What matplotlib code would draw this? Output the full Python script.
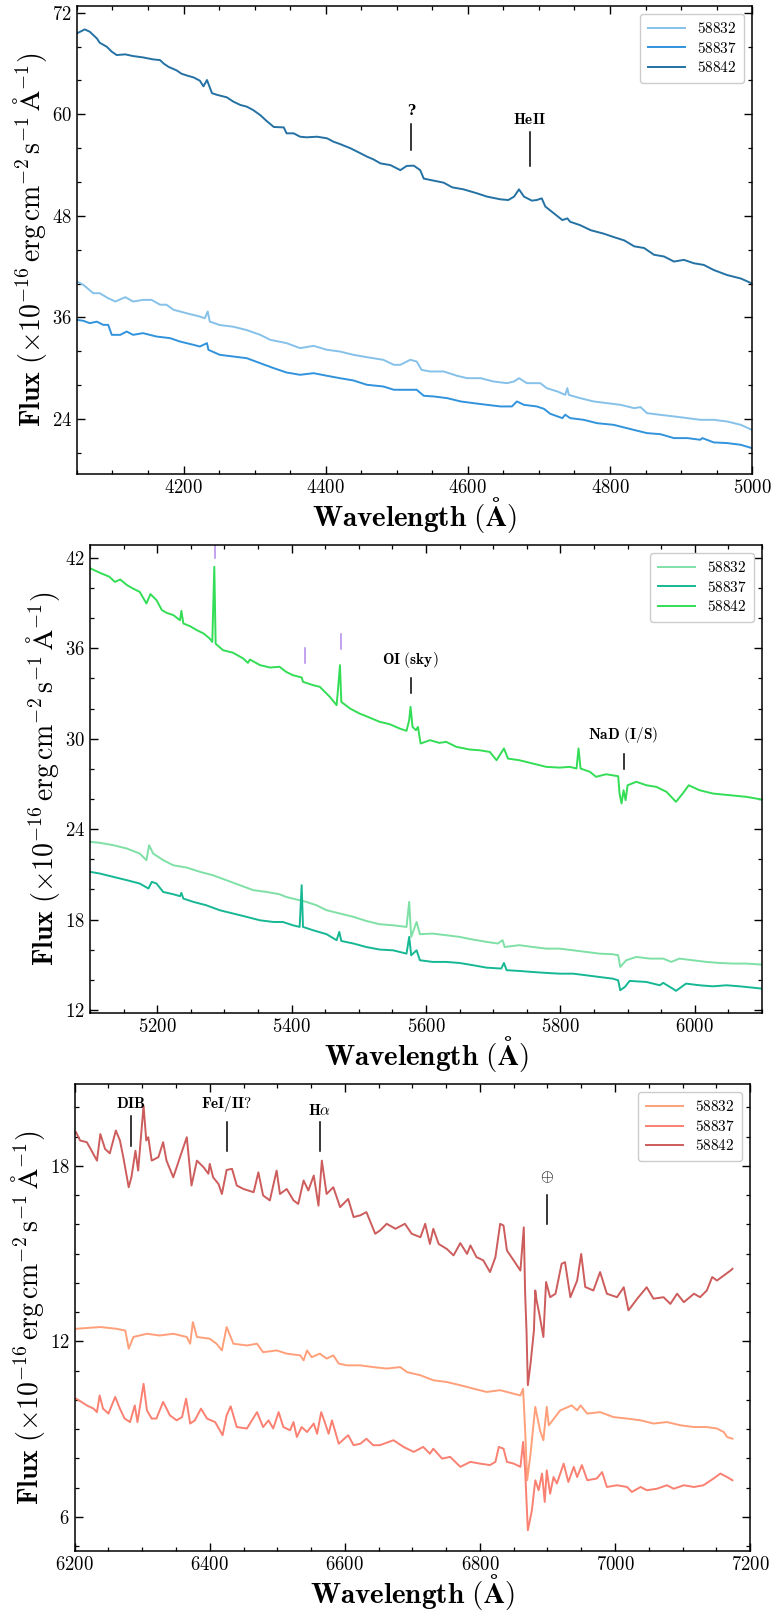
import matplotlib
matplotlib.use("Agg")
import matplotlib.pyplot as plt
from matplotlib.ticker import MultipleLocator, FuncFormatter

plt.rcParams['mathtext.fontset'] = 'cm'
plt.rcParams['font.family'] = 'serif'
plt.rcParams['font.serif'] = ['cmr10', 'DejaVu Serif']
plt.rcParams['axes.unicode_minus'] = False

# ---------------- panel 1 (blue) ----------------
wl_b32 = [4050, 4059, 4073, 4082, 4094, 4104, 4118, 4129, 4143, 4155, 4167, 4176, 4186, 4204, 4223, 4230,
          4234, 4237, 4251, 4270, 4289, 4308, 4322, 4345, 4364, 4383, 4402, 4420, 4439, 4458, 4481, 4496,
          4505, 4519, 4528, 4535, 4547, 4566, 4585, 4599, 4618, 4636, 4655, 4665, 4672, 4683, 4702, 4711,
          4726, 4737, 4740, 4742, 4758, 4777, 4796, 4815, 4834, 4843, 4852, 4871, 4890, 4909, 4927, 4946,
          4965, 4984, 5000]
fx_b32 = [40.24, 39.85, 38.86, 38.86, 38.27, 37.88, 38.39, 37.88, 38.07, 38.07, 37.5, 37.5, 36.9, 36.5, 36.1, 35.9,
          36.7, 35.5, 35.1, 34.9, 34.5, 33.94, 33.35, 32.96, 32.37, 32.64, 32.17, 31.97, 31.58, 31.3, 30.99, 30.4,
          30.4, 30.99, 30.79, 29.8, 29.61, 29.61, 29.1, 28.82, 28.82, 28.43, 28.23, 28.43, 28.82, 28.23, 28.23, 27.64,
          27.25, 26.85, 27.64, 26.85, 26.46, 26.07, 25.87, 25.67, 25.28, 25.4, 24.69, 24.49, 24.3, 24.1, 23.9, 23.9,
          23.7, 23.31, 22.7]

wl_b37 = [4050, 4059, 4068, 4078, 4087, 4094, 4099, 4111, 4120, 4129, 4143, 4162, 4181, 4195, 4214, 4223,
          4233, 4235, 4251, 4270, 4289, 4308, 4327, 4345, 4364, 4383, 4402, 4420, 4439, 4458, 4481, 4496,
          4510, 4528, 4538, 4552, 4571, 4590, 4608, 4627, 4646, 4662, 4669, 4679, 4697, 4707, 4716, 4733,
          4737, 4744, 4763, 4782, 4805, 4815, 4834, 4852, 4871, 4890, 4909, 4927, 4930, 4946, 4965, 4984, 5000]
fx_b37 = [35.71, 35.6, 35.32, 35.5, 35.12, 35.12, 33.94, 33.94, 34.33, 33.94, 34.14, 33.74, 33.55, 33.15, 32.76, 32.56,
          32.96, 32.17, 31.58, 31.38, 31.18, 30.59, 30.0, 29.49, 29.22, 29.41, 29.1, 28.82, 28.55, 28.04, 27.84, 27.45,
          27.45, 27.45, 26.74, 26.66, 26.46, 26.07, 25.87, 25.67, 25.48, 25.48, 26.07, 25.67, 25.48, 25.2, 24.61, 24.1,
          24.5, 24.1, 23.9, 23.5, 23.31, 23.1, 22.7, 22.33, 22.2, 21.74, 21.74, 21.54, 21.74, 21.23, 21.15, 20.95, 20.55]

wl_b42 = [4050, 4061, 4068, 4078, 4082, 4092, 4099, 4106, 4118, 4129, 4143, 4157, 4167, 4172, 4179, 4190,
          4197, 4204, 4214, 4223, 4228, 4233, 4235, 4240, 4247, 4261, 4270, 4280, 4289, 4298, 4308, 4317,
          4327, 4341, 4345, 4355, 4364, 4373, 4388, 4402, 4411, 4420, 4435, 4449, 4458, 4467, 4477, 4491,
          4505, 4514, 4524, 4533, 4538, 4552, 4566, 4578, 4594, 4613, 4627, 4646, 4657, 4665, 4672, 4679,
          4690, 4697, 4704, 4709, 4721, 4733, 4740, 4744, 4758, 4773, 4791, 4805, 4820, 4834, 4848, 4862,
          4876, 4890, 4904, 4918, 4932, 4946, 4965, 4984, 5000]
fx_b42 = [69.56, 70.03, 69.76, 68.97, 68.46, 67.98, 67.4, 67.0, 67.08, 66.88, 66.72, 66.49, 66.4, 66.0, 65.6, 65.2,
          64.8, 64.6, 64.36, 63.97, 63.3, 64.05, 63.6, 62.5, 62.3, 62.0, 61.5, 61.1, 60.9, 60.5, 59.9, 59.2,
          58.5, 58.45, 57.75, 57.75, 57.35, 57.28, 57.35, 57.16, 56.76, 56.49, 55.98, 55.39, 55.0, 54.68, 54.2, 54.0,
          53.4, 53.9, 53.93, 53.4, 52.4, 52.16, 51.92, 51.37, 51.13, 50.66, 50.27, 49.95, 49.87, 50.27, 51.13, 50.27,
          49.8, 49.87, 50.07, 49.1, 48.3, 47.5, 47.7, 47.3, 46.9, 46.3, 45.9, 45.5, 45.1, 44.4, 44.2, 43.4,
          43.2, 42.6, 42.8, 42.4, 42.2, 41.6, 41.0, 40.6, 40.0]

# ---------------- panel 2 (green) ----------------
wl_g32 = [5101, 5115, 5135, 5155, 5174, 5184, 5188, 5194, 5209, 5224, 5244, 5264, 5283, 5303, 5323, 5343,
          5363, 5382, 5392, 5402, 5422, 5437, 5452, 5472, 5492, 5511, 5531, 5551, 5571, 5575, 5578, 5586,
          5591, 5610, 5630, 5650, 5670, 5690, 5707, 5714, 5717, 5739, 5759, 5779, 5799, 5819, 5839, 5858,
          5878, 5886, 5889, 5898, 5913, 5933, 5953, 5965, 5977, 5997, 6017, 6037, 6057, 6077, 6100]
fx_g32 = [23.15, 23.09, 22.93, 22.71, 22.38, 21.94, 22.93, 22.38, 21.94, 21.6, 21.45, 21.16, 20.94, 20.61, 20.28, 19.95,
          19.83, 19.68, 19.5, 19.39, 19.17, 18.95, 18.62, 18.4, 18.18, 17.91, 17.69, 17.62, 17.51, 19.17, 16.85, 17.84,
          17.03, 17.07, 16.96, 16.85, 16.67, 16.52, 16.41, 16.63, 16.18, 16.3, 16.18, 16.07, 16.07, 15.96, 15.85, 15.74,
          15.7, 15.63, 14.86, 15.3, 15.52, 15.41, 15.41, 15.19, 15.41, 15.3, 15.19, 15.12, 15.08, 15.08, 15.01]

wl_g37 = [5101, 5115, 5135, 5155, 5174, 5187, 5192, 5199, 5209, 5224, 5234, 5236, 5239, 5254, 5273, 5293,
          5313, 5333, 5353, 5373, 5387, 5402, 5412, 5415, 5417, 5432, 5452, 5467, 5471, 5474, 5492, 5511,
          5531, 5551, 5571, 5575, 5578, 5586, 5591, 5610, 5630, 5650, 5670, 5690, 5712, 5716, 5720, 5739,
          5759, 5779, 5799, 5819, 5839, 5858, 5878, 5886, 5889, 5896, 5903, 5928, 5948, 5953, 5967, 5972,
          5987, 6007, 6027, 6047, 6067, 6100]
fx_g37 = [21.16, 21.05, 20.83, 20.61, 20.39, 20.06, 20.5, 20.39, 19.83, 19.68, 19.55, 19.77, 19.39, 19.17, 18.95, 18.62,
          18.4, 18.18, 17.95, 17.84, 17.84, 17.62, 17.51, 20.28, 17.51, 17.29, 17.03, 16.63, 17.18, 16.58, 16.41, 16.18,
          16.01, 15.96, 15.74, 16.85, 15.63, 15.96, 15.3, 15.19, 15.19, 15.12, 14.97, 14.81, 14.75, 15.12, 14.64, 14.59,
          14.52, 14.46, 14.41, 14.41, 14.3, 14.19, 14.08, 13.97, 13.31, 13.53, 13.93, 13.86, 13.64, 13.8, 13.42, 13.27,
          13.75, 13.64, 13.57, 13.64, 13.57, 13.42]

wl_g42 = [5101, 5115, 5129, 5137, 5145, 5155, 5164, 5174, 5184, 5190, 5199, 5207, 5214, 5224, 5234, 5236,
          5239, 5249, 5259, 5269, 5278, 5282, 5285, 5287, 5298, 5313, 5328, 5335, 5338, 5353, 5368, 5382,
          5392, 5402, 5415, 5417, 5432, 5442, 5457, 5467, 5469, 5472, 5474, 5487, 5501, 5516, 5531, 5546,
          5561, 5571, 5575, 5577, 5580, 5585, 5588, 5592, 5606, 5620, 5630, 5645, 5665, 5680, 5695, 5705,
          5716, 5722, 5739, 5759, 5779, 5799, 5814, 5824, 5827, 5830, 5844, 5853, 5868, 5886, 5888, 5891,
          5894, 5897, 5900, 5913, 5928, 5943, 5958, 5972, 5982, 5991, 6007, 6027, 6052, 6077, 6100]
fx_g42 = [41.29, 41.0, 40.74, 40.4, 40.56, 40.19, 39.96, 39.74, 38.97, 39.59, 39.19, 38.53, 38.35, 38.2, 37.86, 38.48,
          37.64, 37.46, 37.2, 36.98, 36.65, 36.42, 41.4, 36.3, 35.87, 35.7, 35.32, 35.03, 35.25, 34.88, 34.72, 34.77,
          34.43, 34.21, 34.06, 33.77, 33.55, 33.44, 32.77, 32.22, 33.22, 34.88, 32.44, 32.0, 31.67, 31.4, 31.12, 30.96,
          30.67, 30.52, 31.23, 32.11, 30.78, 30.56, 30.78, 29.68, 29.9, 29.72, 29.79, 29.46, 29.28, 29.23, 29.12, 28.57,
          29.35, 28.68, 28.57, 28.35, 28.13, 28.08, 28.13, 28.02, 29.35, 28.02, 27.8, 27.47, 27.64, 27.51, 26.36, 25.7,
          26.58, 25.92, 26.91, 27.14, 26.91, 26.8, 26.47, 25.81, 26.36, 26.91, 26.58, 26.36, 26.25, 26.14, 25.96]

# ---------------- panel 3 (red) ----------------
wl_r32 = [6202, 6238, 6262, 6275, 6280, 6287, 6307, 6326, 6346, 6366, 6371, 6375, 6381, 6400, 6410, 6418,
          6425, 6435, 6455, 6470, 6479, 6499, 6514, 6534, 6539, 6544, 6551, 6563, 6573, 6583, 6591, 6603,
          6623, 6642, 6662, 6682, 6692, 6712, 6731, 6751, 6771, 6791, 6810, 6830, 6850, 6860, 6864, 6867,
          6870, 6875, 6882, 6889, 6894, 6899, 6902, 6919, 6936, 6944, 6949, 6959, 6978, 6998, 7018, 7038,
          7057, 7077, 7097, 7117, 7136, 7151, 7161, 7166, 7174]
fx_r32 = [12.43, 12.49, 12.43, 12.37, 11.75, 12.15, 12.26, 12.2, 12.26, 12.15, 11.92, 12.66, 12.15, 12.09, 11.92, 11.69,
          12.49, 11.92, 11.86, 11.92, 11.63, 11.69, 11.58, 11.52, 11.35, 11.69, 11.46, 11.58, 11.41, 11.52, 11.24, 11.18,
          11.18, 11.12, 11.07, 11.12, 10.95, 10.84, 10.67, 10.61, 10.5, 10.38, 10.27, 10.33, 10.21, 10.15, 10.38, 8.96,
          7.25, 8.16, 9.76, 8.96, 8.62, 9.76, 9.13, 9.64, 9.81, 9.64, 9.81, 9.53, 9.58, 9.41, 9.36, 9.3,
          9.19, 9.24, 9.13, 9.07, 9.07, 9.02, 8.9, 8.73, 8.67]

wl_r37 = [6202, 6210, 6218, 6228, 6233, 6237, 6242, 6250, 6260, 6267, 6274, 6282, 6289, 6293, 6302, 6307,
          6314, 6321, 6331, 6341, 6351, 6359, 6365, 6371, 6378, 6387, 6396, 6408, 6419, 6425, 6431, 6440,
          6455, 6470, 6479, 6487, 6494, 6502, 6509, 6519, 6524, 6529, 6536, 6544, 6554, 6559, 6565, 6571,
          6576, 6581, 6591, 6605, 6613, 6623, 6632, 6642, 6652, 6672, 6687, 6702, 6716, 6726, 6731, 6744,
          6756, 6771, 6786, 6800, 6815, 6823, 6828, 6835, 6840, 6850, 6860, 6864, 6867, 6871, 6877, 6882,
          6887, 6892, 6896, 6899, 6904, 6909, 6914, 6924, 6931, 6939, 6944, 6951, 6959, 6973, 6981, 6988,
          7003, 7018, 7025, 7038, 7047, 7062, 7077, 7087, 7102, 7117, 7131, 7146, 7156, 7166, 7174]
fx_r37 = [10.04, 9.93, 9.81, 9.7, 9.58, 10.15, 9.7, 9.53, 10.1, 9.7, 9.36, 9.24, 9.81, 9.24, 10.55, 9.64,
          9.36, 9.36, 9.93, 9.47, 9.3, 9.41, 10.04, 9.19, 9.3, 9.7, 9.36, 9.24, 8.79, 9.47, 9.78, 9.07,
          9.02, 9.58, 9.07, 9.3, 9.02, 9.58, 9.07, 8.96, 9.24, 8.73, 9.07, 8.9, 9.19, 8.84, 9.58, 9.19,
          8.84, 9.3, 8.5, 8.79, 8.45, 8.5, 8.67, 8.45, 8.45, 8.62, 8.39, 8.22, 8.39, 8.16, 8.33, 7.99,
          8.05, 7.71, 7.88, 7.82, 7.77, 7.88, 8.39, 8.33, 7.88, 7.82, 7.71, 8.56, 7.59, 5.54, 6.22, 7.25,
          6.91, 7.48, 6.51, 7.59, 6.79, 7.36, 7.14, 7.82, 7.19, 7.71, 7.36, 7.77, 7.25, 7.31, 7.53, 7.02,
          7.08, 7.02, 6.85, 7.02, 6.91, 6.96, 7.08, 6.96, 7.08, 7.02, 7.08, 7.31, 7.48, 7.36, 7.25]

wl_r42 = [6202, 6208, 6218, 6225, 6233, 6238, 6245, 6252, 6261, 6267, 6272, 6280, 6284, 6290, 6294, 6302,
          6306, 6309, 6314, 6324, 6331, 6336, 6346, 6356, 6366, 6373, 6381, 6391, 6398, 6400, 6405, 6413,
          6418, 6425, 6433, 6440, 6450, 6465, 6472, 6479, 6489, 6499, 6504, 6514, 6524, 6531, 6539, 6546,
          6554, 6561, 6566, 6573, 6583, 6593, 6605, 6613, 6623, 6632, 6645, 6652, 6662, 6675, 6689, 6699,
          6712, 6719, 6726, 6731, 6739, 6751, 6761, 6771, 6781, 6786, 6795, 6805, 6815, 6823, 6830, 6835,
          6840, 6850, 6860, 6865, 6867, 6869, 6871, 6875, 6877, 6880, 6882, 6884, 6888, 6894, 6898, 6904,
          6912, 6921, 6926, 6934, 6944, 6950, 6956, 6968, 6978, 6988, 7003, 7013, 7020, 7033, 7047, 7057,
          7072, 7082, 7092, 7102, 7117, 7126, 7136, 7144, 7151, 7161, 7171, 7174]
fx_r42 = [19.15, 18.87, 18.81, 18.52, 18.18, 19.09, 18.58, 18.43, 19.21, 18.87, 18.3, 17.27, 17.61, 18.52, 17.84, 20.06,
          18.87, 18.98, 18.18, 18.3, 18.81, 18.18, 17.61, 18.3, 18.98, 17.33, 18.18, 17.95, 17.73, 18.07, 17.61, 17.38,
          17.04, 17.86, 17.9, 17.33, 17.21, 17.1, 17.78, 16.99, 16.82, 17.84, 17.04, 17.21, 16.82, 16.7, 17.5, 17.16,
          17.67, 16.64, 18.18, 17.04, 17.27, 16.59, 16.87, 16.25, 16.31, 16.42, 15.68, 15.79, 16.02, 15.85, 16.02, 15.68,
          15.56, 16.02, 15.33, 15.85, 15.33, 15.16, 14.94, 15.36, 14.99, 15.28, 14.88, 14.77, 14.37, 14.88, 16.02, 15.96,
          15.11, 14.77, 14.42, 15.9, 13.63, 12.37, 10.5, 11.24, 11.69, 12.37, 13.74, 13.4, 12.94, 12.15, 14.03, 13.51,
          13.63, 14.65, 14.71, 13.51, 14.08, 14.99, 13.86, 13.74, 14.37, 13.63, 13.51, 13.85, 13.06, 13.46, 13.85, 13.46,
          13.51, 13.28, 13.63, 13.34, 13.63, 13.51, 13.74, 14.2, 14.08, 14.25, 14.42, 14.48]

labels = ['58832', '58837', '58842']
blues = ['#85c1e9', '#3193dc', '#2471a3']
greens = ['#7fe0a6', '#16b894', '#33dd55']
reds = ['#ffa07a', '#fa8072', '#cd5c5c']

# line markers: (wavelength, y_bottom, y_top, text, text_y)
marks_1 = [(4520, 55.8, 58.9, '?', 60.4), (4687, 53.9, 57.9, 'HeII', 59.4)]
marks_2 = [(5577, 33.0, 34.0, 'OI\\ (sky)', 35.2), (5894, 28.0, 29.0, 'NaD\\ (I/S)', 30.25)]
marks_3 = [(6283, 18.67, 19.72, 'DIB', 20.14), (6425, 18.5, 19.5, 'FeI/II?', 20.1),
           (6563, 18.5, 19.5, 'H', 19.9), (6900, 16.0, 17.0, 'oplus', 17.6)]
sky_2 = [(5286, 42.0, 42.9), (5420, 35.0, 36.0), (5474, 35.95, 36.95)]

fig = plt.figure(figsize=(7.77, 16.10), dpi=100)
boxes = [[0.099, 0.7056, 0.869, 0.2907],
         [0.1158, 0.3708, 0.8649, 0.2907],
         [0.0961, 0.0368, 0.8692, 0.2899]]

tickfmt = FuncFormatter(lambda v, p: r'$\mathbf{%d}$' % round(v))


def style(ax, xlim, ylim, xmaj, ymaj, ymin):
    ax.set_xlim(*xlim)
    ax.set_ylim(*ylim)
    ax.xaxis.set_major_locator(MultipleLocator(xmaj))
    ax.xaxis.set_minor_locator(MultipleLocator(50))
    ax.yaxis.set_major_locator(MultipleLocator(ymaj))
    ax.yaxis.set_minor_locator(MultipleLocator(ymin))
    ax.xaxis.set_major_formatter(tickfmt)
    ax.yaxis.set_major_formatter(tickfmt)
    ax.tick_params(which='both', direction='in', top=True, right=True, labelsize=13.5)
    ax.tick_params(which='major', length=5.5, width=1)
    ax.tick_params(which='minor', length=3, width=0.9)
    for s in ax.spines.values():
        s.set_linewidth(1.1)
    ax.set_xlabel(r'$\mathbf{Wavelength\ (\AA)}$', fontsize=21, labelpad=-1)
    ax.set_ylabel(r'$\mathbf{Flux}\ (\times10^{-16}\,\mathrm{erg\,cm^{-2}\,s^{-1}\,\AA^{-1}})$',
                  fontsize=20, labelpad=2)
    ax.legend(loc='upper right', fontsize=11, edgecolor='#cccccc', framealpha=1,
              handlelength=2.4, borderpad=0.5, labelspacing=0.3)


def add_marks(ax, marks):
    for x, y0, y1, txt, ty in marks:
        ax.plot([x, x], [y0, y1], color='k', lw=1.1)
        if txt == 'oplus':
            ax.text(x, ty, r'$\oplus$', ha='center', va='center', fontsize=12)
        elif txt == 'H':
            ax.text(x, ty, r'$\mathbf{H}\alpha$', ha='center', va='center', fontsize=11)
        elif txt == '?':
            ax.text(x, ty, '?', ha='center', va='center', fontsize=10,
                    family='DejaVu Serif', fontweight='bold')
        else:
            ax.text(x, ty, r'$\mathbf{%s}$' % txt, ha='center', va='center', fontsize=11)


ax1 = fig.add_axes(boxes[0])
for wl, fx, c, lab in zip([wl_b32, wl_b37, wl_b42], [fx_b32, fx_b37, fx_b42], blues, labels):
    ax1.plot(wl, fx, color=c, lw=1.4, label='$%s$' % lab)
add_marks(ax1, marks_1)
style(ax1, (4050, 5000), (17.5, 72.8), 200, 12, 4)

ax2 = fig.add_axes(boxes[1])
for wl, fx, c, lab in zip([wl_g32, wl_g37, wl_g42], [fx_g32, fx_g37, fx_g42], greens, labels):
    ax2.plot(wl, fx, color=c, lw=1.4, label='$%s$' % lab)
for x, y0, y1 in sky_2:
    ax2.plot([x, x], [y0, y1], color='#b388eb', lw=1.1)
add_marks(ax2, marks_2)
style(ax2, (5100, 6100), (11.8, 42.85), 200, 6, 2)

ax3 = fig.add_axes(boxes[2])
for wl, fx, c, lab in zip([wl_r32, wl_r37, wl_r42], [fx_r32, fx_r37, fx_r42], reds, labels):
    ax3.plot(wl, fx, color=c, lw=1.4, label='$%s$' % lab)
add_marks(ax3, marks_3)
style(ax3, (6200, 7200), (4.84, 20.8), 200, 6, 1)

fig.savefig('out.png', dpi=100)
